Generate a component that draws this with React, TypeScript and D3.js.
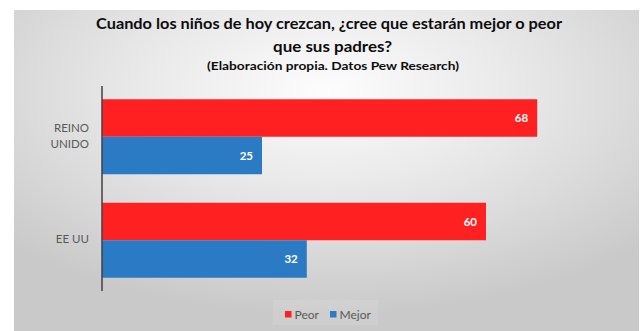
import React from "react";
import * as d3 from "d3";

const categories = ["REINO UNIDO", "EE UU"];
const categoryLines = [["REINO", "UNIDO"], ["EE UU"]];
const seriesNames = ["Peor", "Mejor"];
const peorValues = [68, 60];
const mejorValues = [25, 32];
const seriesColors = ["#ff2121", "#2b7bc4"];
const titleLines = ["Cuando los niños de hoy crezcan, ¿cree que estarán mejor o peor", "que sus padres?"];
const subtitle = "(Elaboración propia. Datos Pew Research)";

const W = 642;
const H = 331;
const FONT = "Lato, 'Open Sans', sans-serif";

export default function App() {
  const x = d3.scaleLinear().domain([0, 80]).range([102, 614]);
  const y0 = d3.scaleBand<string>().domain(categories).range([85, 292]).padding(0);
  const y1 = d3
    .scaleBand<string>()
    .domain(seriesNames)
    .range([0, y0.step()])
    .paddingInner(0)
    .paddingOuter(0.38);
  const values = [peorValues, mejorValues];

  return (
    <svg width={W} height={H} style={{ position: "absolute", left: 0, top: 0 }} fontFamily={FONT}>
      <defs>
        <radialGradient id="bg" cx="50%" cy="25%" r="70%" fx="50%" fy="25%">
          <stop offset="0%" stopColor="#fdfdfd" />
          <stop offset="45%" stopColor="#e8e8e8" />
          <stop offset="100%" stopColor="#c9c9c9" />
        </radialGradient>
      </defs>
      <rect x={0} y={0} width={W} height={H} fill="#ffffff" />
      <rect x={14} y={10} width={625} height={321} fill="url(#bg)" />

      <text x={329} y={29} textAnchor="middle" fontSize={15.5} fontWeight="bold" fill="#0d0d0d" textLength={466} lengthAdjust="spacingAndGlyphs">
        {titleLines[0]}
      </text>
      <text x={332.5} y={51.5} textAnchor="middle" fontSize={15.5} fontWeight="bold" fill="#0d0d0d" textLength={119} lengthAdjust="spacingAndGlyphs">
        {titleLines[1]}
      </text>
      <text x={333} y={69.5} textAnchor="middle" fontSize={12} fontWeight="bold" fill="#0d0d0d" textLength={252} lengthAdjust="spacingAndGlyphs">
        {subtitle}
      </text>

      {categories.map((c, ci) => (
        <g key={c}>
          {seriesNames.map((s, si) => {
            const v = values[si][ci];
            const yy = (y0(c) as number) + (y1(s) as number);
            const bw = y1.bandwidth();
            return (
              <g key={s}>
                <rect x={x(0)} y={yy} width={x(v) - x(0)} height={bw} fill={seriesColors[si]} />
                <text
                  x={x(v) - 9}
                  y={yy + bw / 2}
                  dy="0.35em"
                  textAnchor="end"
                  fontSize={11.5}
                  fontWeight="bold"
                  fill="#ffffff"
                >
                  {v}
                </text>
              </g>
            );
          })}
          {categoryLines[ci].map((line, li) => {
            const n = categoryLines[ci].length;
            const cy = (y0(c) as number) + y0.step() / 2 - 1;
            return (
              <text
                key={line}
                x={89}
                y={cy + (li - (n - 1) / 2) * 16}
                dy="0.35em"
                textAnchor="end"
                fontSize={11.5}
                fill="#595959"
              >
                {line}
              </text>
            );
          })}
        </g>
      ))}

      <line x1={x(0)} x2={x(0)} y1={86} y2={291} stroke="#404040" strokeWidth={1.5} />

      <rect x={273} y={300} width={105} height={25} fill="#ffffff" opacity={0.1} />
      {seriesNames.map((s, i) => {
        const lx = [285, 330][i];
        return (
          <g key={s}>
            <rect x={lx} y={311} width={6.5} height={6.5} fill={seriesColors[i]} />
            <text x={lx + 9.5} y={314.3} dy="0.35em" fontSize={12} fill="#595959">
              {s}
            </text>
          </g>
        );
      })}
    </svg>
  );
}
